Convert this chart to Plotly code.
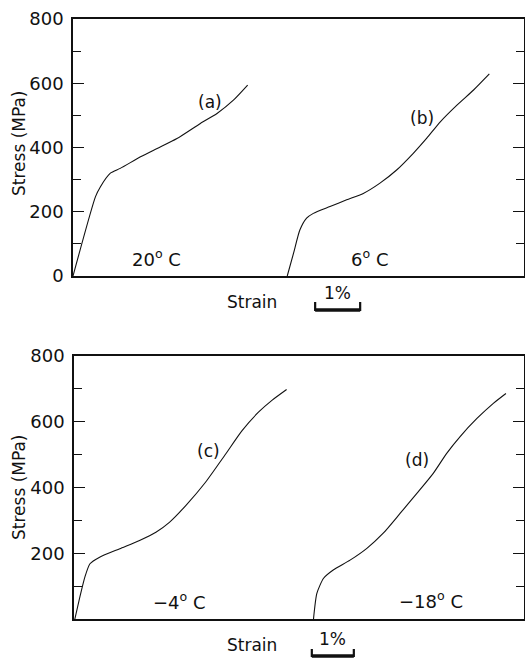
import plotly.graph_objects as go

# ---- data (strain in %, stress in MPa) ----
strain_a = [0.0, 0.50, 0.61, 0.83, 1.05, 1.50, 1.87, 2.31, 2.83, 3.20, 3.57, 3.88]
stress_a = [0, 247, 278, 320, 335, 371, 397, 428, 475, 506, 548, 594]

strain_b = [4.76, 4.90, 5.04, 5.19, 5.34, 5.71, 6.08, 6.45, 6.82, 7.19, 7.56, 7.86, 8.16, 8.53, 8.90, 9.25]
stress_b = [0, 71, 143, 180, 195, 216, 237, 257, 289, 330, 382, 429, 480, 532, 579, 629]

strain_c = [0.02, 0.14, 0.26, 0.38, 0.61, 1.09, 1.56, 1.95, 2.27, 2.66, 3.13, 3.61, 4.00, 4.39, 4.71, 5.06]
stress_c = [0, 67, 128, 168, 188, 214, 239, 264, 294, 345, 416, 502, 573, 629, 665, 698]

strain_d = [5.70, 5.78, 5.94, 6.17, 6.57, 6.97, 7.36, 7.76, 8.16, 8.55, 8.87, 9.19, 9.59, 9.98, 10.28]
stress_d = [0, 78, 124, 149, 179, 215, 261, 321, 382, 443, 504, 555, 610, 656, 686]

top_ticks = [0, 200, 400, 600, 800]
bottom_ticks = [200, 400, 600, 800]

curve_labels = ["(a)", "(b)", "(c)", "(d)"]
temp_labels = ["20<sup>o</sup> C", "6<sup>o</sup> C", "\u22124<sup>o</sup> C", "\u221218<sup>o</sup> C"]

FONT = "DejaVu Sans"
BLACK = "#111111"

fig = go.Figure()
line = dict(color=BLACK, width=1.1, shape="spline", smoothing=0.6)
fig.add_trace(go.Scatter(x=strain_a, y=stress_a, mode="lines", line=line, xaxis="x", yaxis="y"))
fig.add_trace(go.Scatter(x=strain_b, y=stress_b, mode="lines", line=line, xaxis="x", yaxis="y"))
fig.add_trace(go.Scatter(x=strain_c, y=stress_c, mode="lines", line=line, xaxis="x2", yaxis="y2"))
fig.add_trace(go.Scatter(x=strain_d, y=stress_d, mode="lines", line=line, xaxis="x2", yaxis="y2"))

W, H = 525, 661
def px_x(p): return p / W
def px_y(p): return 1 - p / H

xcommon = dict(showline=True, linecolor=BLACK, linewidth=1.8, mirror=True, automargin=False,
               showticklabels=False, ticks="", showgrid=False, zeroline=False, fixedrange=True)
ycommon = dict(showline=True, linecolor=BLACK, linewidth=1.8, mirror="ticks", automargin=False,
               ticks="inside", ticklen=11, tickwidth=1.3, tickcolor=BLACK,
               showgrid=False, zeroline=False, range=[0, 800], fixedrange=True,
               tickfont=dict(family=FONT, size=18, color=BLACK),
               ticklabelstandoff=4,
               minor=dict(dtick=100, tick0=0, ticks="inside", ticklen=8, tickwidth=1.2, tickcolor=BLACK))

fig.update_layout(
    width=W, height=H,
    margin=dict(l=0, r=0, t=0, b=0, autoexpand=False),
    paper_bgcolor="white", plot_bgcolor="white",
    showlegend=False, hovermode=False,
    xaxis=dict(xcommon, domain=[px_x(73), px_x(524)], range=[0, 10.02]),
    yaxis=dict(ycommon, domain=[px_y(276), px_y(19)], anchor="x",
               tickmode="array", tickvals=top_ticks, ticktext=[str(v) for v in top_ticks]),
    xaxis2=dict(xcommon, domain=[px_x(74), px_x(524)], range=[0, 10.71], anchor="y2"),
    yaxis2=dict(ycommon, domain=[px_y(619), px_y(356)], anchor="x2",
                tickmode="array", tickvals=bottom_ticks, ticktext=[str(v) for v in bottom_ticks]),
)

ann = []
tfont = dict(family=FONT, size=17, color=BLACK)
for txt, x, y, xr, yr in [(curve_labels[0], 3.05, 542, "x", "y"), (curve_labels[1], 7.76, 491, "x", "y"),
                          (curve_labels[2], 3.20, 512, "x2", "y2"), (curve_labels[3], 8.17, 483, "x2", "y2")]:
    ann.append(dict(text=txt, x=x, y=y, xref=xr, yref=yr, showarrow=False, font=tfont,
                    xanchor="center", yanchor="middle"))
for txt, x, y, xr, yr in [(temp_labels[0], 1.85, 55, "x", "y"), (temp_labels[1], 6.59, 57, "x", "y"),
                          (temp_labels[2], 2.50, 55, "x2", "y2"), (temp_labels[3], 8.49, 59, "x2", "y2")]:
    ann.append(dict(text=txt, x=x, y=y, xref=xr, yref=yr, showarrow=False,
                    font=dict(family=FONT, size=18, color=BLACK), xanchor="center", yanchor="middle"))
lfont = dict(family=FONT, size=17, color=BLACK)
for y in [px_y(143), px_y(487)]:
    ann.append(dict(text="Stress (MPa)", x=px_x(19), y=y, xref="paper", yref="paper", textangle=-90,
                    showarrow=False, font=lfont, xanchor="center", yanchor="middle"))
for y in [px_y(302), px_y(645)]:
    ann.append(dict(text="Strain", x=px_x(252), y=y, xref="paper", yref="paper",
                    showarrow=False, font=lfont, xanchor="center", yanchor="middle"))

shapes = []
for xr, x0, ybar, ytop, ytext in [("x", 5.38, 310, 302, 293), ("x2", 5.66, 656, 649, 639)]:
    shapes.append(dict(type="path", xref=xr, yref="paper",
                       path=f"M {x0},{px_y(ytop)} L {x0},{px_y(ybar)} L {x0+1},{px_y(ybar)} L {x0+1},{px_y(ytop)}",
                       line=dict(color=BLACK, width=2.2)))
    shapes.append(dict(type="line", xref=xr, yref="paper", x0=x0, x1=x0 + 1, y0=px_y(ybar), y1=px_y(ybar),
                       line=dict(color=BLACK, width=3.5)))
    ann.append(dict(text="1%", x=x0 + 0.5, y=px_y(ytext), xref=xr, yref="paper", showarrow=False,
                    font=lfont, xanchor="center", yanchor="middle"))

fig.update_layout(annotations=ann, shapes=shapes)
fig.write_html("out.html", config={"displayModeBar": False, "staticPlot": True},
               post_script="document.body.style.margin='0';document.body.style.overflow='hidden';")
